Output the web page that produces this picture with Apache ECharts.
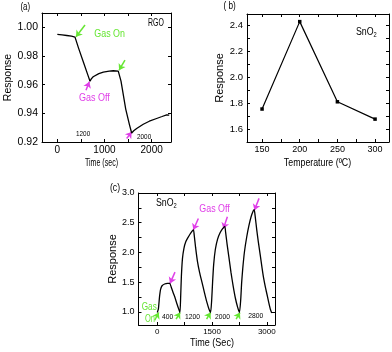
<!DOCTYPE html>
<html>
<head>
<meta charset="utf-8">
<script src="https://cdn.jsdelivr.net/npm/echarts@6/dist/echarts.min.js"></script>
<style>
  html, body { margin: 0; padding: 0; background: #fff; }
  #main { width: 392px; height: 352px; }
</style>
</head>
<body>
<div id="main"></div>
<script>
// (a) RGO response vs time
const aTime = [0, 100, 200, 300, 375, 450, 550, 650, 693, 720, 760, 800, 880, 975, 1100, 1186, 1292,
  1350, 1450, 1530, 1576, 1620, 1682, 1822, 1950, 2105, 2220, 2318, 2350, 2373];
const aResp = [0.9951, 0.9947, 0.9943, 0.9938, 0.9932, 0.9855, 0.976, 0.9665, 0.9624, 0.9640, 0.9655, 0.9665, 0.9677, 0.9688, 0.9694, 0.9697, 0.9694,
  0.9625, 0.943, 0.932, 0.9263, 0.9278, 0.9294, 0.9324, 0.9345, 0.9364, 0.9378, 0.9390, 0.9391, 0.9387];
// (b) SnO2 response vs temperature
const bTemp = [150, 200, 250, 300];
const bResp = [1.755, 2.431, 1.811, 1.677];
// (c) SnO2 response vs time
const cTime = [0, 30, 60, 90, 130, 200, 280, 340, 380, 430, 480, 530, 580, 620,
  640, 660, 690, 730, 780, 850, 920, 990, 1010, 1050, 1100, 1160, 1220, 1290, 1360, 1420, 1460,
  1490, 1515, 1545, 1590, 1650, 1720, 1790, 1850, 1870, 1910, 1960, 2020, 2080, 2140, 2200, 2250,
  2285, 2310, 2340, 2390, 2450, 2510, 2570, 2630, 2655, 2680, 2725, 2770, 2820, 2870, 2910, 2960, 3000, 3050, 3100, 3136];
const cResp = [0.99, 1.05, 1.25, 1.38, 1.44, 1.47, 1.48, 1.48, 1.42, 1.33, 1.25, 1.15, 1.06, 0.99,
  1.25, 1.6, 1.9, 2.07, 2.18, 2.26, 2.33, 2.38, 2.3, 2.08, 1.85, 1.66, 1.51, 1.33, 1.16, 1.04, 0.99,
  1.2, 1.5, 1.8, 2.05, 2.22, 2.33, 2.40, 2.44, 2.35, 2.15, 1.93, 1.66, 1.43, 1.23, 1.08, 0.99,
  1.2, 1.48, 1.72, 2.02, 2.26, 2.45, 2.6, 2.70, 2.72, 2.62, 2.38, 2.17, 1.96, 1.74, 1.58, 1.42, 1.31, 1.17, 1.04, 0.98];

// arrows: [tailX, tailY, headX, headY]
const aGasOn = [[587, 1.0016, 396, 0.9934], [1434, 0.9771, 1309, 0.9701]];
const aGasOff = [[608, 0.9561, 678, 0.962], [1470, 0.9224, 1576, 0.927]];
const cGasOn = [[-70, 0.86, 40, 0.99], [515, 0.88, 625, 0.99], [1350, 0.88, 1460, 0.99], [2160, 0.88, 2265, 0.99]];
const cGasOff = [[485, 1.67, 348, 1.48], [1125, 2.57, 988, 2.38], [1920, 2.60, 1810, 2.40], [2788, 2.91, 2660, 2.71]];

// tick values
const aXTicks = [0, 500, 1000, 1500, 2000];
const aXLabels = [0, 1000, 2000];
const aYTicks = [0.92, 0.94, 0.96, 0.98, 1.00];
const bXTicks = [150, 175, 200, 225, 250, 275, 300];
const bXLabels = [150, 200, 250, 300];
const bYTicks = [1.6, 1.7, 1.8, 1.9, 2.0, 2.1, 2.2, 2.3, 2.4];
const bYLabels = [1.6, 1.8, 2.0, 2.2, 2.4];
const cXTicks = [0, 750, 1500, 2250, 3000];
const cXLabels = [0, 1500, 3000];
const cYTicks = [1.0, 1.25, 1.5, 1.75, 2.0, 2.25, 2.5, 2.75, 3.0];
const cYLabels = [1.0, 1.5, 2.0, 2.5, 3.0];

const GREEN = '#66e633';
const MAGENTA = '#e040e8';
const SANS = "'Liberation Sans', Arial, sans-serif";

const chart = echarts.init(document.getElementById('main'), null, { renderer: 'canvas' });

function zip(xs, ys) { return xs.map((x, i) => [x, ys[i]]); }

function makeAxis(kind, grid, pos, min, max, ticks, labels, digits, fontSize, extra) {
  const main = pos === 'bottom' || pos === 'left';
  return Object.assign({
    type: 'value', gridIndex: grid, position: pos, min: min, max: max,
    splitLine: { show: false },
    axisLine: { show: true, onZero: false, lineStyle: { color: '#000', width: 1 } },
    axisTick: { show: true, inside: true, length: 3, customValues: ticks, lineStyle: { color: '#000' } },
    axisLabel: {
      show: main, customValues: labels, color: '#000', fontFamily: SANS, fontSize: fontSize,
      margin: kind === 'x' ? 3 : 4,
      formatter: v => digits == null ? String(v) : Number(v).toFixed(digits)
    }
  }, extra || {});
}

function yName(gap, size) {
  return { name: 'Response', nameLocation: 'middle', nameGap: gap,
    nameTextStyle: { color: '#000', fontSize: size, fontFamily: SANS } };
}

function arrows(list, color, xi, yi) {
  return {
    type: 'lines', coordinateSystem: 'cartesian2d', xAxisIndex: xi, yAxisIndex: yi,
    symbol: ['none', 'arrow'], symbolSize: 6, silent: true,
    lineStyle: { color: color, width: 1.5, opacity: 1 },
    data: list.map(a => ({ coords: [[a[0], a[1]], [a[2], a[3]]] }))
  };
}

// text drawn condensed like the original figure (sx = horizontal squeeze)
function txt(x, y, text, color, size, sx, align, rich) {
  const style = { text: text, fill: color, fontSize: size, fontFamily: SANS,
    textAlign: align || 'left', verticalAlign: 'middle' };
  if (rich) style.rich = rich;
  return { type: 'text', x: x, y: y, scaleX: sx, z: 10, silent: true, style: style };
}

function snoRich(size) {
  return { n: { fontSize: size, fontFamily: SANS }, s: { fontSize: size * 0.65, fontFamily: SANS, padding: [6, 0, 0, 0] } };
}

const option = {
  backgroundColor: '#fff',
  animation: false,
  grid: [
    { left: 42, top: 13, width: 129, height: 129 },
    { left: 247, top: 14, width: 142, height: 128 },
    { left: 138.5, top: 193, width: 136.5, height: 132 }
  ],
  xAxis: [
    makeAxis('x', 0, 'bottom', -325, 2410, aXTicks, aXLabels, null, 10),
    makeAxis('x', 0, 'top', -325, 2410, aXTicks, aXLabels, null, 10),
    makeAxis('x', 1, 'bottom', 130, 318.5, bXTicks, bXLabels, null, 9),
    makeAxis('x', 1, 'top', 130, 318.5, bXTicks, bXLabels, null, 9),
    makeAxis('x', 2, 'bottom', -515, 3225, cXTicks, cXLabels, null, 8),
    makeAxis('x', 2, 'top', -515, 3225, cXTicks, cXLabels, null, 8)
  ],
  yAxis: [
    makeAxis('y', 0, 'left', 0.92, 1.01, aYTicks, aYTicks, 2, 10.5, yName(25, 10.5)),
    makeAxis('y', 0, 'right', 0.92, 1.01, aYTicks, aYTicks, 2, 10.5),
    makeAxis('y', 1, 'left', 1.5, 2.49, bYTicks, bYLabels, 1, 9.5, yName(20, 11)),
    makeAxis('y', 1, 'right', 1.5, 2.49, bYTicks, bYLabels, 1, 9.5),
    makeAxis('y', 2, 'left', 0.78, 3.0, cYTicks, cYLabels, 1, 9, yName(20, 11)),
    makeAxis('y', 2, 'right', 0.78, 3.0, cYTicks, cYLabels, 1, 9)
  ],
  series: [
    { type: 'line', xAxisIndex: 0, yAxisIndex: 0, data: zip(aTime, aResp), showSymbol: false, symbol: 'none',
      lineStyle: { color: '#000', width: 1.3 } },
    { type: 'line', xAxisIndex: 2, yAxisIndex: 2, data: zip(bTemp, bResp), symbol: 'rect', symbolSize: 3.5,
      itemStyle: { color: '#000' }, lineStyle: { color: '#000', width: 1.2 } },
    { type: 'line', xAxisIndex: 4, yAxisIndex: 4, data: zip(cTime, cResp), showSymbol: false, symbol: 'none',
      smooth: 0.2, lineStyle: { color: '#000', width: 1.3 } },
    arrows(aGasOn, GREEN, 0, 0),
    arrows(aGasOff, MAGENTA, 0, 0),
    arrows(cGasOn, GREEN, 4, 4),
    arrows(cGasOff, MAGENTA, 4, 4)
  ],
  graphic: [
    // axis titles
    txt(101.5, 163, 'Time (sec)', '#000', 11, 0.64, 'center'),
    txt(317.5, 163, 'Temperature (ºC)', '#000', 11, 0.8, 'center'),
    txt(212, 343.5, 'Time (Sec)', '#000', 10.5, 0.86, 'center'),
    // panel (a)
    txt(20.5, 7, '(a)', '#000', 10.5, 0.75),
    txt(148, 23.5, 'RGO', '#000', 10.5, 0.66),
    txt(94.3, 34, 'Gas On', GREEN, 10, 0.89),
    txt(79, 98, 'Gas Off', MAGENTA, 10, 0.9),
    txt(76, 134, '1200', '#000', 7.5, 0.85),
    txt(137, 137, '2000', '#000', 7.5, 0.85),
    // panel (b)
    txt(223.5, 6, '( b)', '#000', 10.5, 0.78),
    txt(356, 32, '{n|SnO}{s|2}', '#000', 10, 0.88, 'left', snoRich(10)),
    // panel (c)
    txt(110, 188, '(c)', '#000', 10.5, 0.82),
    txt(156, 203, '{n|SnO}{s|2}', '#000', 10, 0.88, 'left', snoRich(10)),
    txt(199.3, 209.5, 'Gas Off', MAGENTA, 10, 0.89),
    txt(141.7, 307.5, 'Gas', GREEN, 10, 0.82),
    txt(145, 319, 'On', GREEN, 10, 0.75),
    txt(162, 317, '400', '#000', 7.5, 0.9),
    txt(185, 317, '1200', '#000', 7.5, 0.9),
    txt(215, 317, '2000', '#000', 7.5, 0.9),
    txt(248.3, 316, '2800', '#000', 7.5, 0.9)
  ]
};

chart.setOption(option);
</script>
</body>
</html>
